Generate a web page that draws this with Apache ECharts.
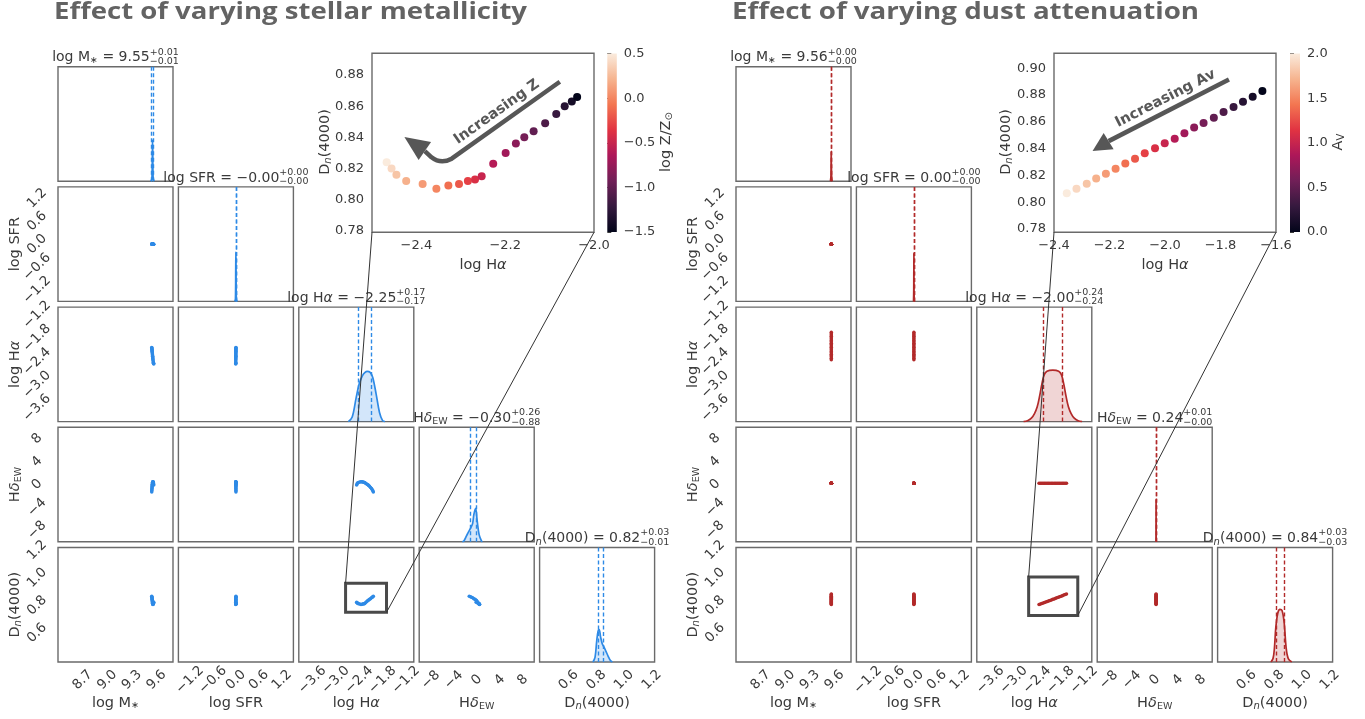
<!DOCTYPE html>
<html>
<head>
<meta charset="utf-8">
<script src="https://cdn.jsdelivr.net/npm/echarts@6/dist/echarts.min.js"></script>
<style>
html,body{margin:0;padding:0;background:#fff}
#c{width:1365px;height:719px}
</style>
</head>
<body>
<div id="c"></div>
<script>
// ---------------- data ----------------
// model grid: stellar metallicity sweep (log Z/Z_sun)
const logZ   = [0.5,0.4,0.3,0.2,0.1,0.0,-0.1,-0.2,-0.3,-0.4,-0.5,-0.6,-0.7,-0.8,-0.9,-1.0,-1.1,-1.2,-1.3,-1.4,-1.5];
const zLogM  = [9.566,9.564,9.562,9.560,9.558,9.556,9.555,9.554,9.553,9.552,9.551,9.550,9.549,9.548,9.547,9.546,9.545,9.544,9.543,9.542,9.541];
const zLogSFR= [-0.004,-0.004,-0.003,-0.003,-0.003,-0.002,-0.002,-0.002,-0.002,-0.001,-0.001,-0.001,-0.001,-0.001,0.000,0.000,0.000,0.000,0.001,0.001,0.001];
const zLogHa = [-2.467,-2.456,-2.445,-2.423,-2.386,-2.355,-2.328,-2.304,-2.284,-2.268,-2.253,-2.227,-2.199,-2.176,-2.157,-2.136,-2.110,-2.085,-2.066,-2.050,-2.038];
const zHdEW  = [-0.1,0.1,0.25,0.35,0.45,0.5,0.5,0.45,0.4,0.35,0.3,0.2,0.05,-0.05,-0.15,-0.3,-0.5,-0.7,-0.9,-1.1,-1.3];
const zDn    = [0.824,0.820,0.816,0.812,0.810,0.807,0.809,0.810,0.812,0.813,0.815,0.823,0.830,0.836,0.840,0.844,0.849,0.855,0.860,0.863,0.866];

// model grid: dust attenuation sweep (A_V)
const av     = [2.0,1.9,1.8,1.7,1.6,1.5,1.4,1.3,1.2,1.1,1.0,0.9,0.8,0.7,0.6,0.5,0.4,0.3,0.2,0.1,0.0];
const dLogM  = [9.56,9.56,9.56,9.56,9.56,9.56,9.56,9.56,9.56,9.56,9.56,9.56,9.56,9.56,9.56,9.56,9.56,9.56,9.56,9.56,9.56];
const dLogSFR= [0,0,0,0,0,0,0,0,0,0,0,0,0,0,0,0,0,0,0,0,0];
const dLogHa = [-2.354,-2.319,-2.282,-2.248,-2.213,-2.178,-2.143,-2.108,-2.073,-2.036,-2.001,-1.965,-1.930,-1.895,-1.861,-1.824,-1.789,-1.753,-1.719,-1.684,-1.649];
const dHdEW  = [0.24,0.24,0.24,0.24,0.24,0.24,0.24,0.24,0.24,0.24,0.24,0.24,0.24,0.24,0.24,0.24,0.24,0.24,0.24,0.24,0.24];
const dDn    = [0.8066,0.8101,0.8138,0.8176,0.8213,0.8250,0.8288,0.8325,0.8365,0.8402,0.8440,0.8474,0.8514,0.8557,0.8592,0.8631,0.8674,0.8711,0.8751,0.8788,0.8831];

// posterior summaries (median, +upper, -lower) per parameter
const zMed   = [9.55,-0.001,-2.25,-0.30,0.82];
const zPlus  = [0.01,0.00,0.17,0.26,0.03];
const zMinus = [0.01,0.00,0.17,0.88,0.01];
const dMed   = [9.56,0.00,-2.00,0.24,0.84];
const dPlus  = [0.00,0.00,0.24,0.01,0.03];
const dMinus = [0.00,0.00,0.24,0.00,0.03];

// smoothed 1D marginals, [value, height as fraction of panel]
const zHistM   = [[9.53,0],[9.543,0.02],[9.548,0.2],[9.551,0.36],[9.554,0.22],[9.558,0.03],[9.57,0]];
const zHistSFR = [[-0.03,0],[-0.012,0.02],[-0.004,0.3],[0.0,0.43],[0.004,0.3],[0.012,0.02],[0.03,0]];
const zHistHa  = [[-2.68,0],[-2.58,0.04],[-2.478,0.21],[-2.40,0.33],[-2.32,0.40],[-2.25,0.43],[-2.196,0.439],[-2.12,0.43],[-2.053,0.386],[-1.966,0.24],[-1.88,0.08],[-1.80,0.008],[-1.74,0]];
const zHistHd  = [[-2.5,0],[-2.2,0.01],[-1.8,0.05],[-1.48,0.08],[-1.06,0.12],[-0.71,0.16],[-0.49,0.24],[-0.19,0.293],[0.09,0.18],[0.43,0.06],[0.85,0.005],[1.0,0]];
const zHistDn  = [[0.775,0],[0.79,0.04],[0.802,0.18],[0.812,0.27],[0.82,0.284],[0.83,0.22],[0.842,0.16],[0.855,0.13],[0.87,0.09],[0.885,0.05],[0.9,0.015],[0.915,0]];
const dHistM   = [[9.55,0],[9.556,0.05],[9.559,0.26],[9.561,0.26],[9.564,0.05],[9.57,0]];
const dHistSFR = [[-0.01,0],[-0.004,0.1],[0,0.42],[0.004,0.1],[0.01,0]];
const dHistHa  = [[-2.75,0],[-2.65,0.008],[-2.55,0.03],[-2.47,0.07],[-2.40,0.13],[-2.34,0.22],[-2.28,0.33],[-2.22,0.41],[-2.15,0.44],[-2.0,0.45],[-1.85,0.44],[-1.78,0.41],[-1.72,0.33],[-1.66,0.22],[-1.60,0.13],[-1.53,0.07],[-1.45,0.03],[-1.35,0.008],[-1.25,0]];
const dHistHd  = [[0.22,0],[0.235,0.2],[0.24,0.37],[0.245,0.2],[0.26,0]];
const dHistDn  = [[0.775,0],[0.79,0.03],[0.80,0.12],[0.81,0.3],[0.825,0.43],[0.84,0.46],[0.855,0.45],[0.87,0.35],[0.885,0.12],[0.9,0.03],[0.925,0]];

// tick labels
const tickM   = [8.7,9.0,9.3,9.6];
const tickSFR = [-1.2,-0.6,0.0,0.6,1.2];
const tickHa  = [-3.6,-3.0,-2.4,-1.8,-1.2];
const tickHd  = [-8,-4,0,4,8];
const tickDn  = [0.6,0.8,1.0,1.2];
const insetZX = [-2.4,-2.2,-2.0];
const insetZY = [0.78,0.80,0.82,0.84,0.86,0.88];
const insetDX = [-2.4,-2.2,-2.0,-1.8,-1.6];
const insetDY = [0.78,0.80,0.82,0.84,0.86,0.88,0.90];
const cbZTicks = [-1.5,-1.0,-0.5,0.0,0.5];
const cbDTicks = [0.0,0.5,1.0,1.5,2.0];

// ---------------- styling / layout ----------------
const FONT = '"DejaVu Sans", sans-serif';
const TXT = '#3a3a3a';
const FRAME = '#6a6a6a';
const ROCKET = ['#03051a','#35193e','#701f57','#ad1759','#e13342','#f37651','#f6b48f','#faebdd'];
const RANGES = [[8.4,9.8],[-1.5,1.5],[-3.95,-1.0],[-10,10],[0.39,1.22]];
const TICKS = [tickM, tickSFR, tickHa, tickHd, tickDn];
const DEC = [1,1,1,0,1];
const PANEL_W = 115, PANEL_H = 114.5, PITCH_X = 120.4, PITCH_Y = 120.2, TOP0 = 66.7;
const CORNER_LEFT = [58, 736];
const TICK_SIZE = 13.5;

const ctx = document.createElement('canvas').getContext('2d');
function measure(t, size, italic, weight, family) {
  ctx.font = (italic ? 'italic ' : '') + (weight || 'normal') + ' ' + size + 'px ' + (family || FONT);
  return ctx.measureText(t).width;
}
function fmt(v, d) { return v.toFixed(d).replace('-', '\u2212'); }
function panelRect(s, r, c) {
  return { left: CORNER_LEFT[s] + c * PITCH_X, top: TOP0 + r * PITCH_Y, width: PANEL_W, height: PANEL_H };
}

// text made of pieces (subscripts, italics, stacked +/- errors)
function richGroup(id, parts, x, y, opt) {
  opt = opt || {};
  const base = opt.size || 14;
  const children = [];
  let cx = 0;
  parts.forEach(p => {
    if (p.sup !== undefined) {
      const s = p.s || 9.5;
      const w = Math.max(measure(p.sup, s), measure(p.sub, s));
      children.push({ type: 'text', x: cx, y: -5.5, style: { text: p.sup, fontSize: s, fontFamily: FONT, fill: TXT, align: 'left', verticalAlign: 'middle' } });
      children.push({ type: 'text', x: cx, y: 3.8, style: { text: p.sub, fontSize: s, fontFamily: FONT, fill: TXT, align: 'left', verticalAlign: 'middle' } });
      cx += w;
    } else {
      const s = p.s || base;
      const w = measure(p.t, s, p.it);
      children.push({ type: 'text', x: cx, y: p.dy || 0, style: { text: p.t, fontSize: s, fontFamily: FONT, fontStyle: p.it ? 'italic' : 'normal', fill: TXT, align: 'left', verticalAlign: 'middle' } });
      cx += w;
    }
  });
  const shift = opt.anchor === 'left' ? 0 : -cx / 2;
  children.forEach(ch => { ch.x += shift; });
  return { type: 'group', id: id, x: x, y: y, rotation: opt.rotation || 0, children: children, z: 50 };
}

const NAMES = [
  [{t:'log M'},{t:'\u2217', s:9.5, dy:3}],
  [{t:'log SFR'}],
  [{t:'log H'},{t:'\u03b1', it:true}],
  [{t:'H'},{t:'\u03b4', it:true},{t:'EW', s:9.5, dy:3.5}],
  [{t:'D'},{t:'n', s:10, it:true, dy:3.5},{t:'(4000)'}]
];

const sides = [
  { pts: [zLogM, zLogSFR, zLogHa, zHdEW, zDn], hist: [zHistM, zHistSFR, zHistHa, zHistHd, zHistDn],
    med: zMed, plus: zPlus, minus: zMinus, color: '#2e8ae6', fill: 'rgba(46,138,230,0.30)' },
  { pts: [dLogM, dLogSFR, dLogHa, dHdEW, dDn], hist: [dHistM, dHistSFR, dHistHa, dHistHd, dHistDn],
    med: dMed, plus: dPlus, minus: dMinus, color: '#b22a2a', fill: 'rgba(178,42,42,0.28)' }
];

const grid = [], xAxis = [], yAxis = [], series = [], graphic = [], visualMap = [];
function addGrid(rect, border) {
  grid.push(Object.assign({ show: !!border, borderColor: FRAME, borderWidth: 1.4, backgroundColor: 'rgba(0,0,0,0)' }, rect));
  return grid.length - 1;
}
function axis(gi, min, max, extra) {
  return Object.assign({ type: 'value', gridIndex: gi, min: min, max: max, splitLine: { show: false },
    axisLine: { show: false }, axisTick: { show: false }, axisLabel: { show: false } }, extra || {});
}
function cornerXLabel(ticks, d) {
  return { axisLabel: { show: true, customValues: ticks, rotate: 45, align: 'center', verticalAlign: 'middle', margin: 18,
    color: TXT, fontSize: TICK_SIZE, fontFamily: FONT, formatter: v => fmt(v, d) } };
}
function cornerYLabel(ticks, d) {
  return { axisLabel: { show: true, customValues: ticks, rotate: 45, align: 'center', verticalAlign: 'middle', margin: 21,
    color: TXT, fontSize: TICK_SIZE, fontFamily: FONT, formatter: v => fmt(v, d) } };
}

// zoom boxes drawn in the log H-alpha / Dn(4000) panel
const ZOOM_BOX = [[-2.75, 0.75, -1.70, 0.96], [-2.62, 0.727, -1.36, 1.006]];
const boxGrid = [];

// ---------------- corner plots ----------------
for (let s = 0; s < 2; s++) {
  const sd = sides[s];
  for (let r = 0; r < 5; r++) {
    for (let c = 0; c <= r; c++) {
      const gi = addGrid(panelRect(s, r, c), true);
      xAxis.push(axis(gi, RANGES[c][0], RANGES[c][1], r === 4 ? cornerXLabel(TICKS[c], DEC[c]) : null));
      if (r === c) {
        yAxis.push(axis(gi, 0, 1));
        series.push({
          type: 'line', xAxisIndex: gi, yAxisIndex: gi, data: sd.hist[c], smooth: 0.35,
          showSymbol: false, lineStyle: { color: sd.color, width: 1.7 }, areaStyle: { color: sd.fill },
          markLine: { silent: true, symbol: ['none', 'none'], label: { show: false },
            lineStyle: { color: sd.color, type: [4, 2.5], width: 1.4 },
            data: [{ xAxis: sd.med[c] - sd.minus[c] }, { xAxis: sd.med[c] + sd.plus[c] }] }
        });
        // panel title: name = median (+err / -err)
        const rect = panelRect(s, r, c);
        const parts = NAMES[c].concat([{ t: ' = ' + fmt(sd.med[c], 2) },
          { sup: '+' + sd.plus[c].toFixed(2), sub: '\u2212' + sd.minus[c].toFixed(2) }]);
        graphic.push(richGroup('title' + s + c, parts, rect.left + PANEL_W / 2, rect.top - 9, { size: 14 }));
      } else {
        yAxis.push(axis(gi, RANGES[r][0], RANGES[r][1], c === 0 ? cornerYLabel(TICKS[r], DEC[r]) : null));
        series.push({
          type: 'line', xAxisIndex: gi, yAxisIndex: gi,
          data: sd.pts[c].map((v, i) => [v, sd.pts[r][i]]),
          symbol: 'circle', symbolSize: 3.5, showSymbol: true,
          lineStyle: { color: sd.color, width: 2.4 }, itemStyle: { color: sd.color }
        });
      }
      if (r === 4 && c === 2) {
        boxGrid[s] = gi;
        const b = ZOOM_BOX[s];
        series.push({
          type: 'custom', xAxisIndex: gi, yAxisIndex: gi, data: [[b[0], b[1]]], z: 20,
          renderItem: (params, api) => {
            const p0 = api.coord([b[0], b[3]]), p1 = api.coord([b[2], b[1]]);
            return { type: 'rect', shape: { x: p0[0], y: p0[1], width: p1[0] - p0[0], height: p1[1] - p0[1] },
              style: { fill: 'none', stroke: '#4a4a4a', lineWidth: 3 } };
          }
        });
      }
    }
    // y-axis names on the first column
    if (r > 0) {
      const rect = panelRect(s, r, 0);
      graphic.push(richGroup('yname' + s + r, NAMES[r], CORNER_LEFT[s] - 43, rect.top + PANEL_H / 2, { size: 14.5, rotation: Math.PI / 2 }));
    }
  }
  // x-axis names under the bottom row
  for (let c = 0; c < 5; c++) {
    const rect = panelRect(s, 4, c);
    graphic.push(richGroup('xname' + s + c, NAMES[c], rect.left + PANEL_W / 2, 703, { size: 14.5 }));
  }
}

// ---------------- insets ----------------
const insets = [
  { rect: { left: 372, top: 53.3, width: 222, height: 179 }, xr: [-2.5, -2.0], yr: [0.779, 0.894], xt: insetZX, yt: insetZY,
    ha: zLogHa, dn: zDn, cval: logZ, cmin: -1.5, cmax: 0.5, cb: { left: 607.3, top: 53.5, width: 9.5, height: 178.5 }, cbt: cbZTicks },
  { rect: { left: 1054, top: 53.3, width: 222, height: 179 }, xr: [-2.4, -1.6], yr: [0.7775, 0.9112], xt: insetDX, yt: insetDY,
    ha: dLogHa, dn: dDn, cval: av, cmin: 0, cmax: 2, cb: { left: 1290, top: 53.5, width: 10, height: 178.5 }, cbt: cbDTicks }
];
const insetGrid = [];

function headPolygon(tip, base, hw) {
  const dx = tip[0] - base[0], dy = tip[1] - base[1];
  const L = Math.sqrt(dx * dx + dy * dy);
  const px = -dy / L * hw, py = dx / L * hw;
  return [tip, [base[0] + px, base[1] + py], [base[0] - px, base[1] - py]];
}

insets.forEach((ins, k) => {
  const gi = addGrid(ins.rect, true);
  insetGrid[k] = gi;
  xAxis.push(axis(gi, ins.xr[0], ins.xr[1], { axisLabel: { show: true, customValues: ins.xt, margin: 7, color: TXT, fontSize: 13, fontFamily: FONT, formatter: v => fmt(v, 1) } }));
  yAxis.push(axis(gi, ins.yr[0], ins.yr[1], { axisLabel: { show: true, customValues: ins.yt, margin: 8, color: TXT, fontSize: 13, fontFamily: FONT, formatter: v => fmt(v, 2) } }));
  series.push({
    type: 'scatter', xAxisIndex: gi, yAxisIndex: gi, z: 5,
    data: ins.ha.map((v, i) => [v, ins.dn[i], ins.cval[i]]), symbolSize: 8,
    itemStyle: { opacity: 1 }
  });
  visualMap.push({ type: 'continuous', show: false, min: ins.cmin, max: ins.cmax, dimension: 2,
    seriesIndex: series.length - 1, inRange: { color: ROCKET } });

  // annotation arrows
  if (k === 0) {
    const path = [[-2.077, 0.8757], [-2.3205, 0.8263], [-2.345, 0.8225], [-2.366, 0.8272], [-2.381, 0.8312]];
    const tip = [-2.427, 0.8402], textAt = [-2.219, 0.8563];
    series.push({
      type: 'custom', xAxisIndex: gi, yAxisIndex: gi, data: [[path[0][0], path[0][1]]], z: 6,
      renderItem: (params, api) => {
        const P = path.map(p => api.coord(p));
        const T = api.coord(tip), X = api.coord(textAt);
        const d = 'M' + P[0].join(' ') + ' L' + P[1].join(' ') + ' Q' + P[2].join(' ') + ' ' + P[3].join(' ') + ' L' + P[4].join(' ');
        const rot = Math.atan2(P[1][1] - P[0][1], P[0][0] - P[1][0]);
        return { type: 'group', children: [
          { type: 'path', shape: { pathData: d }, style: { fill: 'none', stroke: '#575757', lineWidth: 4.5, lineJoin: 'round' } },
          { type: 'polygon', shape: { points: headPolygon(T, P[4], 11) }, style: { fill: '#575757' } },
          { type: 'text', x: X[0], y: X[1], rotation: rot, style: { text: 'Increasing Z', fontSize: 14.5, fontWeight: 'bold', fontFamily: FONT, fill: '#575757', align: 'center', verticalAlign: 'middle' } }
        ] };
      }
    });
  } else {
    const start = [-1.7696, 0.8916], base = [-2.2031, 0.8456], tip = [-2.261, 0.8382], textAt = [-1.998, 0.8774];
    series.push({
      type: 'custom', xAxisIndex: gi, yAxisIndex: gi, data: [[start[0], start[1]]], z: 6,
      renderItem: (params, api) => {
        const S = api.coord(start), B = api.coord(base), T = api.coord(tip), X = api.coord(textAt);
        const rot = Math.atan2(B[1] - S[1], S[0] - B[0]);
        return { type: 'group', children: [
          { type: 'line', shape: { x1: S[0], y1: S[1], x2: B[0], y2: B[1] }, style: { stroke: '#575757', lineWidth: 4.5 } },
          { type: 'polygon', shape: { points: headPolygon(T, B, 9.5) }, style: { fill: '#575757' } },
          { type: 'text', x: X[0], y: X[1], rotation: rot, style: { text: 'Increasing Av', fontSize: 14.5, fontWeight: 'bold', fontFamily: FONT, fill: '#575757', align: 'center', verticalAlign: 'middle' } }
        ] };
      }
    });
  }

  // colour bar
  const cg = addGrid(ins.cb, false);
  xAxis.push(axis(cg, 0, 1));
  yAxis.push(axis(cg, ins.cmin, ins.cmax, {
    position: 'right',
    axisTick: { show: true, customValues: ins.cbt, length: 4, lineStyle: { color: TXT, width: 1 } },
    axisLabel: { show: true, customValues: ins.cbt, margin: 7, color: TXT, fontSize: 13, fontFamily: FONT, formatter: v => fmt(v, 1) }
  }));
  series.push({
    type: 'custom', xAxisIndex: cg, yAxisIndex: cg, data: [[0, ins.cmin]], silent: true,
    renderItem: (params, api) => {
      const cs = params.coordSys;
      return { type: 'rect', shape: { x: cs.x, y: cs.y, width: cs.width, height: cs.height },
        style: { fill: new echarts.graphic.LinearGradient(0, 1, 0, 0, ROCKET.map((col, i) => ({ offset: i / (ROCKET.length - 1), color: col }))) } };
    }
  });
});

// inset axis names
graphic.push(richGroup('inYL', NAMES[4], 325, 142, { size: 14.5, rotation: Math.PI / 2 }));
graphic.push(richGroup('inXL', NAMES[2], 483, 265, { size: 14.5 }));
graphic.push(richGroup('cbL', [{t:'log Z/Z'},{t:'\u2299', s:10, dy:3.5}], 666, 142, { size: 14.5, rotation: Math.PI / 2 }));
graphic.push(richGroup('inYR', NAMES[4], 1006, 142, { size: 14.5, rotation: Math.PI / 2 }));
graphic.push(richGroup('inXR', NAMES[2], 1165, 265, { size: 14.5 }));
graphic.push(richGroup('cbR', [{t:'A'},{t:'V', s:10, dy:3.5}], 1338, 142, { size: 14.5, rotation: Math.PI / 2 }));

// headings
function heading(id, text, x, targetW) {
  const fam = '"Open Sans", sans-serif';
  const w = measure(text, 24, false, 'bold', fam);
  return { type: 'text', id: id, x: x, y: 12, scaleX: targetW / w, z: 50,
    style: { text: text, fontSize: 24, fontWeight: 'bold', fontFamily: fam, fill: '#636363', align: 'left', verticalAlign: 'middle' } };
}
graphic.push(heading('h1', 'Effect of varying stellar metallicity', 54, 473));
graphic.push(heading('h2', 'Effect of varying dust attenuation', 732, 467));

const chart = echarts.init(document.getElementById('c'));
chart.setOption({
  animation: false,
  backgroundColor: '#ffffff',
  grid: grid, xAxis: xAxis, yAxis: yAxis, series: series, visualMap: visualMap,
  graphic: { elements: graphic }
});

// connector lines from the zoom boxes to the inset corners
const links = [];
for (let s = 0; s < 2; s++) {
  const b = ZOOM_BOX[s], ins = insets[s];
  const boxTL = chart.convertToPixel({ gridIndex: boxGrid[s] }, [b[0], b[3]]);
  const boxBR = chart.convertToPixel({ gridIndex: boxGrid[s] }, [b[2], b[1]]);
  const inBL = chart.convertToPixel({ gridIndex: insetGrid[s] }, [ins.xr[0], ins.yr[0]]);
  const inBR = chart.convertToPixel({ gridIndex: insetGrid[s] }, [ins.xr[1], ins.yr[0]]);
  links.push({ type: 'line', id: 'lnA' + s, z: 100, shape: { x1: boxTL[0], y1: boxTL[1], x2: inBL[0], y2: inBL[1] }, style: { stroke: '#333', lineWidth: 1 } });
  links.push({ type: 'line', id: 'lnB' + s, z: 100, shape: { x1: boxBR[0], y1: boxBR[1], x2: inBR[0], y2: inBR[1] }, style: { stroke: '#333', lineWidth: 1 } });
}
chart.setOption({ graphic: { elements: links } });
</script>
</body>
</html>
